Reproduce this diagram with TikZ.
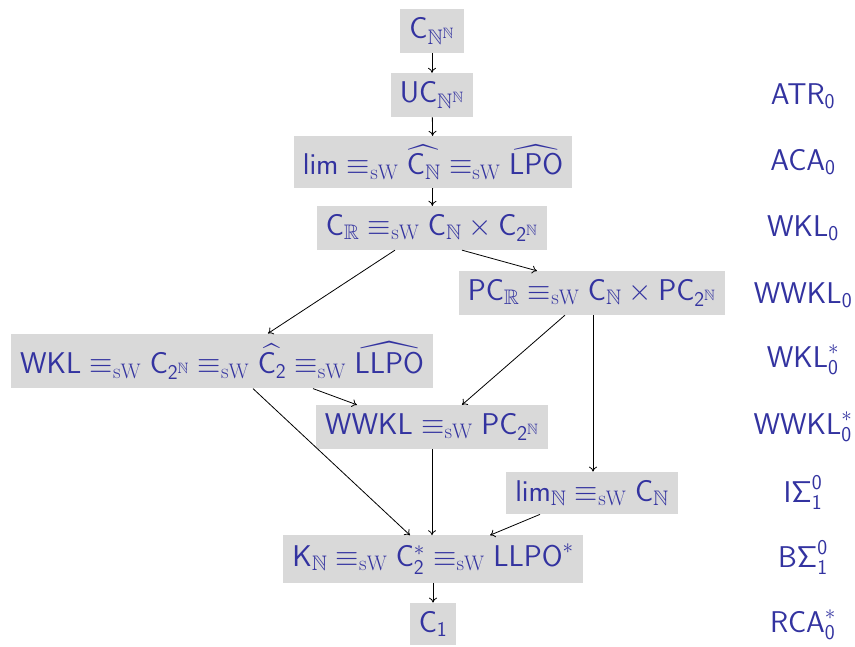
\RequirePackage{fix-cm}
\documentclass[tikz,border=0pt]{standalone}
\usepackage{amssymb}
\usetikzlibrary{arrows.meta}
\definecolor{bl}{RGB}{51,51,160}
\newcommand{\sW}{\equiv_{\mathrm{sW}}}
\newcommand{\sfm}[1]{\mathsf{#1}}
\tikzset{
  gbox/.style={fill=black!15, text=bl, inner xsep=9pt, inner ysep=8.5pt, font=\fontsize{30}{35}\selectfont},
  lab/.style={text=bl, inner sep=0pt, font=\fontsize{30}{35}\selectfont},
  arr/.style={-{To[length=5pt,width=8pt]}, line width=0.8pt, black}
}
\begin{document}
\begin{tikzpicture}[x=1pt,y=-1pt]
\useasboundingbox (0,0) rectangle (855,646);
\node[gbox] (cnn) at (432,31) {$\sfm{C}_{\mathbb{N}^{\mathbb{N}}}$};
\node[gbox] (ucnn) at (432,95) {$\sfm{UC}_{\mathbb{N}^{\mathbb{N}}}$};
\node[gbox] (lim) at (433,162) {$\sfm{lim}\sW\widehat{\sfm{C}_{\mathbb N}}\sW\widehat{\sfm{LPO}}$};
\node[gbox] (cr) at (432,228) {$\sfm{C}_{\mathbb R}\sW\sfm{C}_{\mathbb N}\times\sfm{C}_{\sfm{2}^{\mathbb N}}$};
\node[gbox] (pcr) at (592,293) {$\sfm{PC}_{\mathbb R}\sW\sfm{C}_{\mathbb N}\times\sfm{PC}_{\sfm{2}^{\mathbb N}}$};
\node[gbox] (wkl) at (222,361) {$\sfm{WKL}\sW\sfm{C}_{\sfm{2}^{\mathbb N}}\sW\widehat{\sfm{C}_{\sfm 2}}\sW\widehat{\sfm{LLPO}}$};
\node[gbox] (wwkl) at (432,427) {$\sfm{WWKL}\sW\sfm{PC}_{\sfm{2}^{\mathbb N}}$};
\node[gbox] (limn) at (592,493) {$\sfm{lim}_{\mathbb N}\sW\sfm{C}_{\mathbb N}$};
\node[gbox] (kn) at (433,559) {$\sfm{K}_{\mathbb N}\sW\sfm{C}_{\sfm 2}^{*}\sW\sfm{LLPO}^{*}$};
\node[gbox] (c1) at (433,624) {$\sfm{C}_{\sfm 1}$};

\node[lab] (l1) at (803,96) {$\sfm{ATR}_{\sfm 0}$};
\node[lab] (l2) at (803,162) {$\sfm{ACA}_{\sfm 0}$};
\node[lab] (l3) at (803,228) {$\sfm{WKL}_{\sfm 0}$};
\node[lab] (l4) at (803,295) {$\sfm{WWKL}_{\sfm 0}$};
\node[lab] (l5) at (803,360) {$\sfm{WKL}^{*}_{\sfm 0}$};
\node[lab] (l6) at (803,427) {$\sfm{WWKL}^{*}_{\sfm 0}$};
\node[lab] (l7) at (803,493) {$\sfm{I\Sigma}^{\sfm 0}_{\sfm 1}$};
\node[lab] (l8) at (803,558) {$\sfm{B\Sigma}^{\sfm 0}_{\sfm 1}$};
\node[lab] (l9) at (803,625) {$\sfm{RCA}^{*}_{\sfm 0}$};

\draw[arr] (cnn) -- (ucnn);
\draw[arr] (ucnn) -- (lim);
\draw[arr] (lim) -- (cr);
\draw[arr] ([xshift=30]cr.south) -- ([xshift=-55]pcr.north);
\draw[arr] ([xshift=-37]cr.south) -- ([xshift=46]wkl.north);
\draw[arr] ([xshift=-27]pcr.south) -- ([xshift=30]wwkl.north);
\draw[arr] ([xshift=1]pcr.south) -- ([xshift=1]limn.north);
\draw[arr] ([xshift=91]wkl.south) -- ([xshift=-75]wwkl.north);
\draw[arr] ([xshift=31]wkl.south) -- ([xshift=-23]kn.north);
\draw[arr] (wwkl.south) -- (wwkl.south |- kn.north);
\draw[arr] ([xshift=-52]limn.south) -- ([xshift=57]kn.north);
\draw[arr] (kn) -- (c1);
\end{tikzpicture}
\end{document}
